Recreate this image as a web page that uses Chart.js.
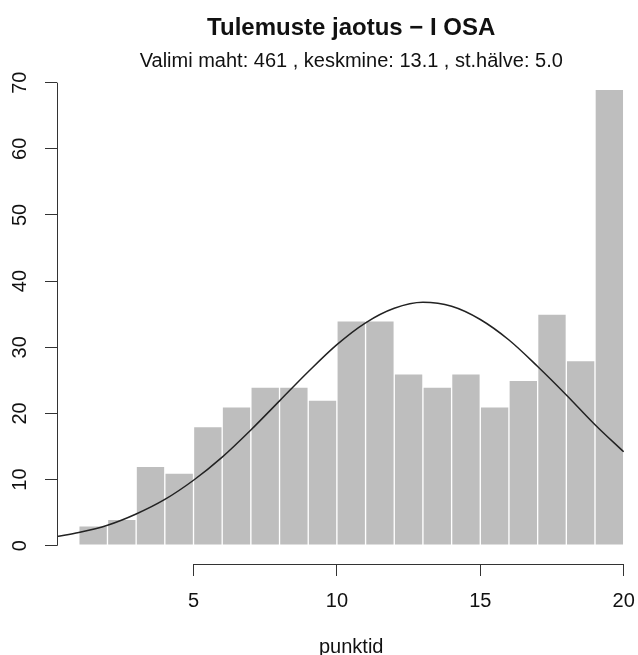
<!DOCTYPE html>
<html>
<head>
<meta charset="utf-8">
<script src="https://cdn.jsdelivr.net/npm/chart.js@4/dist/chart.umd.min.js"></script>
<style>
  body { margin: 0; background: #fff; }
  #wrap { width: 638px; height: 655px; }
</style>
</head>
<body>
<div id="wrap"><canvas id="histChart" width="638" height="655"></canvas></div>
<script>
// Histogram bins (midpoints of 1-point bins) and counts
const binMids = [1.5, 2.5, 3.5, 4.5, 5.5, 6.5, 7.5, 8.5, 9.5, 10.5, 11.5, 12.5, 13.5, 14.5, 15.5, 16.5, 17.5, 18.5, 19.5];
const counts = [3, 4, 12, 11, 18, 21, 24, 24, 22, 34, 34, 26, 24, 26, 21, 25, 35, 28, 69];

// Normal curve, values
const curveX = [0.24, 1, 2, 3, 4, 5, 6, 7, 8, 9, 10, 11, 12, 13, 14, 15, 16, 17, 18, 19, 20];
const curveY = [1.4, 2.0, 3.1, 4.8, 7.0, 9.9, 13.4, 17.5, 21.9, 26.3, 30.4, 33.7, 35.9, 36.8, 36.2, 34.2, 31.1, 27.1, 22.8, 18.3, 14.2];

// Axis ticks
const xTicks = [5, 10, 15, 20];
const yTicks = [0, 10, 20, 30, 40, 50, 60, 70];

const titleText = 'Tulemuste jaotus \u2212 I OSA';
const subtitleText = 'Valimi maht: 461 , keskmine: 13.1 , st.h\u00e4lve: 5.0';
const xLabel = 'punktid';

const FONT = "'Liberation Sans', Arial, Helvetica, sans-serif";
Chart.defaults.font.family = FONT;
Chart.defaults.color = '#111';

// R-style axis lines (only over the tick range) plus titles
const rDecor = {
    id: 'rDecor',
    afterDraw(chart) {
        const ctx = chart.ctx;
        const xs = chart.scales.x, ys = chart.scales.y;
        const area = chart.chartArea;
        ctx.save();
        ctx.strokeStyle = '#333';
        ctx.lineWidth = 1;
        ctx.beginPath();
        const yx = Math.round(area.left) + 0.5;
        ctx.moveTo(yx, ys.getPixelForValue(yTicks[0]));
        ctx.lineTo(yx, ys.getPixelForValue(yTicks[yTicks.length - 1]));
        const xy = Math.round(area.bottom) + 0.5;
        ctx.moveTo(xs.getPixelForValue(xTicks[0]), xy);
        ctx.lineTo(xs.getPixelForValue(xTicks[xTicks.length - 1]), xy);
        ctx.stroke();

        // texts are centred on the full R plot region
        const cx = xs.getPixelForValue(10.5);
        ctx.fillStyle = '#111';
        ctx.textAlign = 'center';
        ctx.textBaseline = 'alphabetic';
        ctx.font = 'bold 24px ' + FONT;
        ctx.fillText(titleText, cx, 35);
        ctx.font = '20px ' + FONT;
        ctx.fillText(subtitleText, cx, 67);
        ctx.fillText(xLabel, cx, 653);
        ctx.restore();
    }
};

const ctx = document.getElementById('histChart').getContext('2d');
new Chart(ctx, {
    type: 'bar',
    data: {
        datasets: [
            {
                type: 'line',
                data: curveX.map((x, i) => ({ x: x, y: curveY[i] })),
                borderColor: '#222',
                borderWidth: 1.5,
                pointRadius: 0,
                fill: false,
                cubicInterpolationMode: 'monotone',
                order: 0
            },
            {
                type: 'bar',
                data: binMids.map((x, i) => ({ x: x, y: counts[i] })),
                backgroundColor: '#bebebe',
                borderColor: '#ffffff',
                borderWidth: 1,
                borderSkipped: false,
                barPercentage: 1,
                categoryPercentage: 1,
                order: 1
            }
        ]
    },
    options: {
        responsive: false,
        animation: false,
        devicePixelRatio: 1,
        layout: { padding: { left: 0, top: 71, right: 6, bottom: 0 } },
        plugins: {
            legend: { display: false },
            title: { display: false },
            tooltip: { enabled: false }
        },
        scales: {
            x: {
                type: 'linear',
                offset: false,
                min: 0.24,
                max: 20.29,
                afterBuildTicks: s => { s.ticks = xTicks.map(v => ({ value: v })); },
                afterFit: s => { s.height = 91; s.paddingLeft = 0; s.paddingRight = 0; },
                grid: { display: true, offset: false, drawOnChartArea: false, drawTicks: true, tickLength: 12, color: '#333', lineWidth: 1 },
                border: { display: false },
                ticks: {
                    autoSkip: false,
                    maxRotation: 0,
                    padding: 13,
                    font: { size: 20 },
                    color: '#111',
                    callback: v => String(v)
                }
            },
            y: {
                type: 'linear',
                min: -2.76,
                max: 71.76,
                afterBuildTicks: s => { s.ticks = yTicks.map(v => ({ value: v })); },
                afterFit: s => { s.width = 57; s.paddingTop = 0; s.paddingBottom = 0; },
                grid: { display: true, drawOnChartArea: false, drawTicks: true, tickLength: 12, color: '#333', lineWidth: 1 },
                border: { display: false },
                ticks: {
                    autoSkip: false,
                    minRotation: 90,
                    maxRotation: 90,
                    crossAlign: 'center',
                    padding: 13,
                    font: { size: 20 },
                    color: '#111',
                    callback: v => String(v)
                }
            }
        }
    },
    plugins: [rDecor]
});
</script>
</body>
</html>
